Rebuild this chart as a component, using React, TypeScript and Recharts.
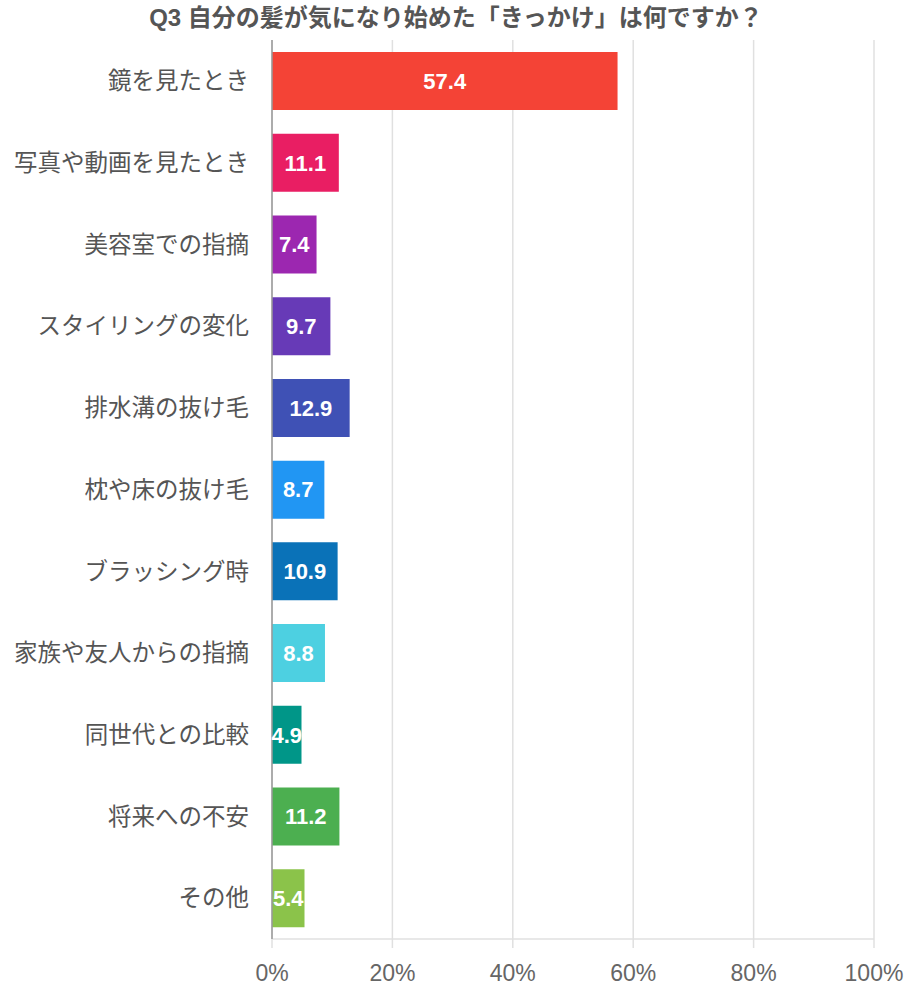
import React from "react";
import {
  BarChart,
  Bar,
  XAxis,
  YAxis,
  CartesianGrid,
  Cell,
  LabelList,
} from "recharts";

const categories = [
  "鏡を見たとき",
  "写真や動画を見たとき",
  "美容室での指摘",
  "スタイリングの変化",
  "排水溝の抜け毛",
  "枕や床の抜け毛",
  "ブラッシング時",
  "家族や友人からの指摘",
  "同世代との比較",
  "将来への不安",
  "その他",
];

const values = [57.4, 11.1, 7.4, 9.7, 12.9, 8.7, 10.9, 8.8, 4.9, 11.2, 5.4];

const COLORS = [
  "#F44336",
  "#E91E63",
  "#9C27B0",
  "#673AB7",
  "#3F51B5",
  "#2196F3",
  "#0A72B8",
  "#4DD0E1",
  "#009688",
  "#4CAF50",
  "#8BC34A",
];

const xTicks = [0, 20, 40, 60, 80, 100];

const title = "Q3 自分の髪が気になり始めた「きっかけ」は何ですか？";

const data = categories.map((name, i) => ({ name, value: values[i] }));

const FONT = "'Liberation Sans', 'Noto Sans CJK JP', sans-serif";

export default function App() {
  return (
    <div
      style={{
        position: "absolute",
        left: 0,
        top: 0,
        width: 912,
        height: 1000,
        background: "#fff",
        fontFamily: FONT,
      }}
    >
      <div
        style={{
          position: "absolute",
          top: 3,
          left: 0,
          width: 912,
          textAlign: "center",
          fontSize: 24,
          fontWeight: "bold",
          color: "#555",
          lineHeight: "30px",
        }}
      >
        {title}
      </div>
      <BarChart
        width={912}
        height={1000}
        data={data}
        layout="vertical"
        margin={{ top: 40, right: 38, bottom: 0, left: 0 }}
        barSize={58}
      >
        <CartesianGrid horizontal={false} stroke="#e0e0e0" strokeWidth={1.5} />
        <XAxis
          type="number"
          domain={[0, 100]}
          ticks={xTicks}
          tickFormatter={(v) => `${v}%`}
          height={61}
          axisLine={{ stroke: "#e0e0e0", strokeWidth: 1.5 }}
          tickLine={{ stroke: "#e0e0e0", strokeWidth: 1.5 }}
          tickSize={9}
          tickMargin={17}
          tick={{ fill: "#666", fontSize: 23, fontFamily: FONT }}
        />
        <YAxis
          type="category"
          dataKey="name"
          width={272}
          axisLine={{ stroke: "#999", strokeWidth: 1.5 }}
          tickLine={false}
          tickSize={0}
          tickMargin={23}
          interval={0}
          tick={{ fill: "#555", fontSize: 23.5, fontFamily: FONT }}
        />
        <Bar dataKey="value" isAnimationActive={false}>
          {data.map((entry, index) => (
            <Cell key={`cell-${index}`} fill={COLORS[index % COLORS.length]} />
          ))}
          <LabelList
            dataKey="value"
            position="center"
            fill="#fff"
            fontSize={22}
            fontWeight="bold"
            fontFamily={FONT}
          />
        </Bar>
      </BarChart>
    </div>
  );
}
